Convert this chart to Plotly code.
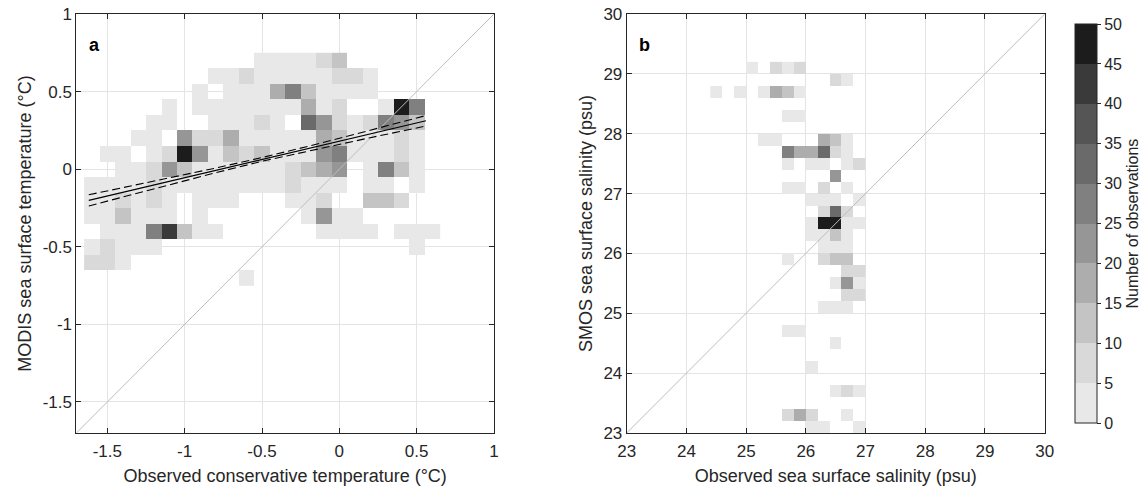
import plotly.graph_objects as go

N = None
# ---------------- Panel a data (2D histogram counts) ----------------
temp_obs_centers = [-1.6, -1.5, -1.4, -1.3, -1.2, -1.1, -1.0, -0.9, -0.8, -0.7, -0.6, -0.5,
                    -0.4, -0.3, -0.2, -0.1, 0.0, 0.1, 0.2, 0.3, 0.4, 0.5, 0.6]
temp_modis_centers = [0.7, 0.6, 0.5, 0.4, 0.3, 0.2, 0.1, 0.0, -0.1, -0.2, -0.3, -0.4, -0.5, -0.6, -0.7]
counts_a = [
    [N, N, N, N, N, N, N, N, N, N, N, 3, 3, 3, 3, 7, 12, N, N, N, N, N, N],
    [N, N, N, N, N, N, N, N, 3, 3, 7, 3, 3, 3, 3, 3, 7, 7, 3, N, N, N, N],
    [N, N, N, N, N, N, N, 3, N, 3, 3, 3, 17, 27, 12, 3, 3, 3, 3, N, N, N, N],
    [N, N, N, N, N, 3, N, 3, 3, 3, 3, 3, 3, 3, 17, 3, 7, N, N, 3, 47, 27, N],
    [N, N, N, N, 3, 3, N, N, 3, 3, 3, 7, 3, N, 32, 22, 7, 3, 7, 27, 22, 12, N],
    [N, N, N, 3, 3, N, 22, 7, 7, 17, 3, 3, 3, 3, 3, 17, 12, 3, 3, 3, 7, 3, N],
    [N, 3, 3, N, 3, 7, 47, 22, 3, 12, 7, 12, 3, 3, 3, 22, 27, 3, 3, 3, 7, 3, N],
    [N, N, 3, 3, 7, 22, 12, 3, 3, 3, 3, 3, 3, 7, 12, 17, 22, N, 3, 27, 12, 3, N],
    [3, 3, 3, 3, 7, 3, 3, 3, 3, 3, 3, 3, 3, 7, 3, 3, 3, N, 3, 3, N, 3, N],
    [3, 3, 7, 3, 7, 3, N, 3, 3, 3, N, N, N, 3, 3, 7, N, N, 12, 12, 7, N, N],
    [3, 3, 12, 3, 3, 3, N, 3, N, N, N, N, N, N, 3, 22, 3, 3, N, N, N, N, N],
    [N, 3, 3, 3, 27, 42, 12, 3, 3, N, N, N, N, N, N, 3, 3, 3, 3, N, 3, 3, 3],
    [3, 7, 3, 3, 3, N, N, N, N, N, N, N, N, N, N, N, N, N, N, N, N, 3, N],
    [7, 7, 3, N, N, N, N, N, N, N, N, N, N, N, N, N, N, N, N, N, N, N, N],
    [N, N, N, N, N, N, N, N, N, N, 3, N, N, N, N, N, N, N, N, N, N, N, N],
]

# regression fit and confidence bounds
fit_x = [-1.62, 0.56]
fit_y = [-0.201, 0.312]
ci_x = [-1.62, -1.2, -0.8, -0.5, -0.2, 0.2, 0.56]
ci_upper = [-0.165, -0.078, 0.007, 0.075, 0.148, 0.251, 0.346]
ci_lower = [-0.237, -0.126, -0.023, 0.051, 0.118, 0.203, 0.278]

# ---------------- Panel b data (sparse cells) ----------------
sal_obs_centers = [24.5, 24.7, 24.9, 25.1, 25.3, 25.5, 25.7, 25.9, 26.1, 26.3, 26.5, 26.7, 26.9]
sal_smos_centers = [29.1, 28.9, 28.7, 28.5, 28.3, 28.1, 27.9, 27.7, 27.5, 27.3, 27.1, 26.9, 26.7,
                    26.5, 26.3, 26.1, 25.9, 25.7, 25.5, 25.3, 25.1, 24.9, 24.7, 24.5, 24.3,
                    24.1, 23.9, 23.7, 23.5, 23.3, 23.1]
cell_b_obs = [25.1, 25.5, 25.7, 25.9,
              26.5, 26.7,
              24.5, 24.9, 25.3, 25.5, 25.7, 25.9,
              25.7, 25.9,
              25.3, 25.5, 26.3, 26.5, 26.7,
              25.7, 25.9, 26.1, 26.3, 26.5, 26.7,
              25.7, 26.1, 26.3, 26.7, 26.9,
              26.5,
              25.7, 25.9, 26.3, 26.7,
              26.1, 26.3, 26.5, 26.9,
              26.3, 26.5, 26.7,
              26.1, 26.3, 26.5, 26.7, 26.9,
              26.1, 26.3, 26.5, 26.7,
              26.3, 26.5, 26.7,
              25.7, 26.3, 26.5, 26.7,
              26.7, 26.9,
              26.5, 26.7, 26.9,
              26.7, 26.9,
              26.3, 26.5, 26.7,
              25.7, 25.9,
              26.5,
              26.1,
              26.5, 26.7, 26.9,
              25.7, 25.9, 26.1, 26.7,
              26.1, 26.3, 26.9]
cell_b_smos = [29.1, 29.1, 29.1, 29.1,
               28.9, 28.9,
               28.7, 28.7, 28.7, 28.7, 28.7, 28.7,
               28.3, 28.3,
               27.9, 27.9, 27.9, 27.9, 27.9,
               27.7, 27.7, 27.7, 27.7, 27.7, 27.7,
               27.5, 27.5, 27.5, 27.5, 27.5,
               27.3,
               27.1, 27.1, 27.1, 27.1,
               26.9, 26.9, 26.9, 26.9,
               26.7, 26.7, 26.7,
               26.5, 26.5, 26.5, 26.5, 26.5,
               26.3, 26.3, 26.3, 26.3,
               26.1, 26.1, 26.1,
               25.9, 25.9, 25.9, 25.9,
               25.7, 25.7,
               25.5, 25.5, 25.5,
               25.3, 25.3,
               25.1, 25.1, 25.1,
               24.7, 24.7,
               24.5,
               24.1,
               23.7, 23.7, 23.7,
               23.3, 23.3, 23.3, 23.3,
               23.1, 23.1, 23.1]
cell_b_count = [3, 7, 3, 7,
                7, 3,
                3, 3, 3, 17, 12, 3,
                3, 3,
                3, 3, 17, 12, 3,
                27, 17, 17, 32, 7, 3,
                3, 3, 3, 3, 7,
                22,
                3, 3, 7, 3,
                3, 3, 3, 3,
                7, 32, 7,
                3, 47, 47, 3, 3,
                3, 3, 12, 3,
                3, 3, 3,
                3, 7, 12, 12,
                7, 7,
                3, 22, 3,
                7, 7,
                3, 3, 3,
                3, 3,
                3,
                3,
                3, 7, 3,
                7, 17, 7, 3,
                3, 3, 3]

cbar_ticks = [0, 5, 10, 15, 20, 25, 30, 35, 40, 45, 50]
grey_levels = ['#e8e8e8', '#d9d9d9', '#c4c4c4', '#adadad', '#969696',
               '#808080', '#6a6a6a', '#555555', '#3a3a3a', '#1c1c1c']

# ---------------- build ----------------
colorscale = []
nl = len(grey_levels)
for i, c in enumerate(grey_levels):
    colorscale.append([i / nl, c])
    colorscale.append([(i + 1) / nl, c])

z_b = [[None for _ in sal_obs_centers] for _ in sal_smos_centers]
for xo, ys, c in zip(cell_b_obs, cell_b_smos, cell_b_count):
    ri = min(range(len(sal_smos_centers)), key=lambda k: abs(sal_smos_centers[k] - ys))
    ci = min(range(len(sal_obs_centers)), key=lambda k: abs(sal_obs_centers[k] - xo))
    z_b[ri][ci] = c

FONT = "Liberation Sans, Arial, Helvetica, sans-serif"
AX = '#262626'
GRID = '#e4e4e4'
DIAG = '#bdbdbd'
DASH = '8px,4px'

fig = go.Figure()
fig.add_trace(go.Heatmap(x=temp_obs_centers, y=temp_modis_centers, z=counts_a,
                         coloraxis='coloraxis', xaxis='x', yaxis='y', hoverongaps=False))
fig.add_trace(go.Scatter(x=[-1.7, 1], y=[-1.7, 1], mode='lines',
                         line=dict(color=DIAG, width=1), xaxis='x', yaxis='y', showlegend=False))
fig.add_trace(go.Scatter(x=ci_x, y=ci_upper, mode='lines', line=dict(color='black', width=1.1, dash=DASH),
                         xaxis='x', yaxis='y', showlegend=False))
fig.add_trace(go.Scatter(x=ci_x, y=ci_lower, mode='lines', line=dict(color='black', width=1.1, dash=DASH),
                         xaxis='x', yaxis='y', showlegend=False))
fig.add_trace(go.Scatter(x=fit_x, y=fit_y, mode='lines', line=dict(color='black', width=1.2),
                         xaxis='x', yaxis='y', showlegend=False))

fig.add_trace(go.Heatmap(x=sal_obs_centers, y=sal_smos_centers, z=z_b,
                         coloraxis='coloraxis', xaxis='x2', yaxis='y2', hoverongaps=False))
fig.add_trace(go.Scatter(x=[23, 30], y=[23, 30], mode='lines',
                         line=dict(color=DIAG, width=1), xaxis='x2', yaxis='y2', showlegend=False))

W, H = 1142, 490
ydom = [(H - 433) / H, (H - 14) / H]

def axis(rng, tv, tt, dom, anchor, title, standoff, lbl_off):
    return dict(range=rng, domain=dom, anchor=anchor, tickvals=tv, ticktext=tt,
                ticks='inside', ticklen=5, tickcolor=AX, showline=True, linecolor=AX,
                linewidth=1, mirror='ticks', showgrid=True, gridcolor=GRID, gridwidth=1,
                zeroline=False, tickfont=dict(family=FONT, size=17, color=AX),
                ticklabelstandoff=lbl_off,
                title=dict(text=title, font=dict(family=FONT, size=18, color=AX), standoff=standoff),
                automargin=False, layer='above traces')

ta = [-1.5, -1, -0.5, 0, 0.5, 1]
tta = ['-1.5', '-1', '-0.5', '0', '0.5', '1']
tb = [23, 24, 25, 26, 27, 28, 29, 30]
ttb = [str(v) for v in tb]

fig.update_layout(
    width=W, height=H, autosize=False, margin=dict(l=0, r=0, t=0, b=0, autoexpand=False),
    paper_bgcolor='white', plot_bgcolor='white', showlegend=False,
    xaxis=axis([-1.7, 1], ta, tta, [76.4 / W, 494 / W], 'y', 'Observed conservative temperature (°C)', 8, 3),
    yaxis=axis([-1.7, 1], ta, tta, ydom, 'x', 'MODIS sea surface temperature (°C)', 6, 0),
    xaxis2=axis([23, 30], tb, ttb, [626.7 / W, 1044.7 / W], 'y2', 'Observed sea surface salinity (psu)', 8, 3),
    yaxis2=axis([23, 30], tb, ttb, ydom, 'x2', 'SMOS sea surface salinity (psu)', 6, 0),
    coloraxis=dict(colorscale=colorscale, cmin=0, cmax=50,
                   colorbar=dict(x=1065 / W, xanchor='left', y=ydom[0], yanchor='bottom',
                                 len=ydom[1] - ydom[0], lenmode='fraction', thickness=22,
                                 outlinecolor=AX, outlinewidth=1, ticks='outside', ticklen=4,
                                 tickcolor=AX, tickvals=cbar_ticks,
                                 tickfont=dict(family=FONT, size=16, color=AX))),
    annotations=[
        dict(text='<b>a</b>', xref='x domain', yref='y domain', x=0.025, y=0.955,
             xanchor='left', yanchor='top', showarrow=False, font=dict(family=FONT, size=18, color='black')),
        dict(text='<b>b</b>', xref='x2 domain', yref='y2 domain', x=0.025, y=0.955,
             xanchor='left', yanchor='top', showarrow=False, font=dict(family=FONT, size=18, color='black')),
        dict(text='Number of observations', xref='paper', yref='paper', x=1132 / W,
             y=(H - 223.5) / H, xanchor='center', yanchor='middle', textangle=-90,
             showarrow=False, font=dict(family=FONT, size=16, color=AX)),
    ],
)

fig.write_html("out.html", config={'displayModeBar': False, 'responsive': False},
               post_script="document.body.style.margin='0px';document.body.style.overflow='hidden';")
